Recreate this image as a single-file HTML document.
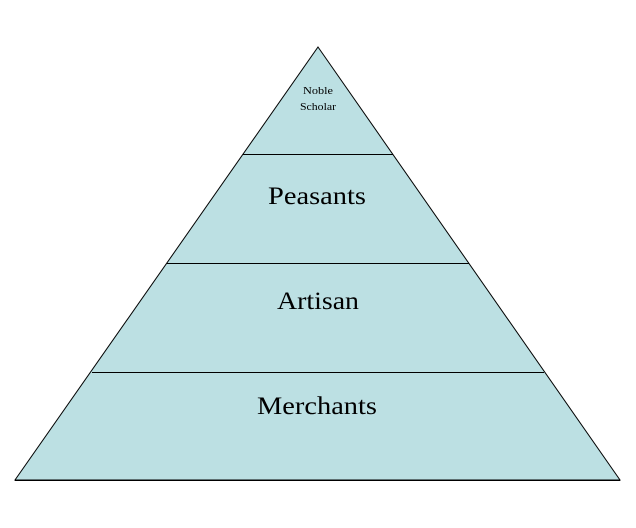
<!DOCTYPE html>
<html><head><style>body{margin:0;background:#fff;}svg{display:block}</style></head>
<body>
<svg width="636" height="528" xmlns="http://www.w3.org/2000/svg">
<polygon points="318,47 620,480 15,480" fill="#bce0e3" stroke="#000" stroke-width="1"/>
<line x1="243" y1="154.5" x2="393" y2="154.5" stroke="#000"/>
<line x1="167" y1="263.5" x2="469" y2="263.5" stroke="#000"/>
<line x1="92" y1="372.5" x2="544" y2="372.5" stroke="#000"/>
<line x1="15" y1="480.5" x2="620" y2="480.5" stroke="#000"/>
<g font-family="Liberation Serif, serif" text-anchor="middle" fill="#000">
<text x="318" y="94" font-size="11" textLength="30" lengthAdjust="spacingAndGlyphs">Noble</text>
<text x="318" y="110" font-size="11" textLength="36" lengthAdjust="spacingAndGlyphs">Scholar</text>
<text x="317" y="204" font-size="25" textLength="98" lengthAdjust="spacingAndGlyphs">Peasants</text>
<text x="318" y="309" font-size="25" textLength="82" lengthAdjust="spacingAndGlyphs">Artisan</text>
<text x="317" y="414" font-size="25" textLength="120" lengthAdjust="spacingAndGlyphs">Merchants</text>
</g>
</svg>
</body></html>
